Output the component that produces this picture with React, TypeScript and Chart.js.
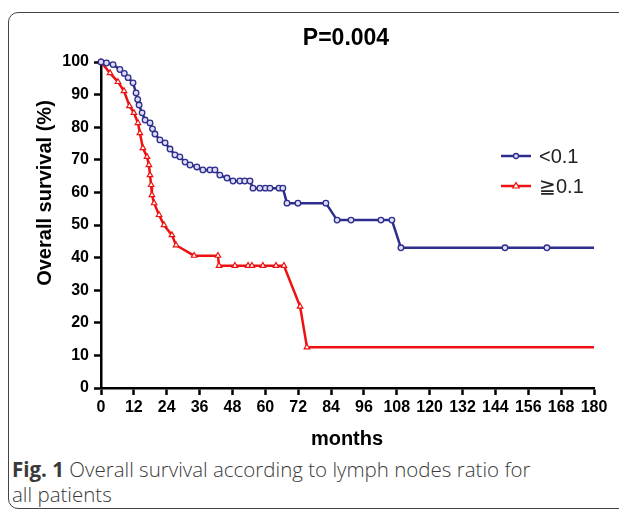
import React, { useEffect, useRef } from "react";
import { Chart, registerables } from "chart.js";

Chart.register(...registerables);

// ---- data ----
const titleText = "P=0.004";
const xAxisTitle = "months";
const yAxisTitle = "Overall survival (%)";
const seriesLabels = ["<0.1", "\u22670.1"];
const xTickValues = [0, 12, 24, 36, 48, 60, 72, 84, 96, 108, 120, 132, 144, 156, 168, 180];
const yTickValues = [0, 10, 20, 30, 40, 50, 60, 70, 80, 90, 100];

const lowMonths = [
  0, 2, 4.4, 6.9, 8.5, 9.9, 11.7, 12.8, 13.4, 13.9, 15, 16.1, 17.9, 18.8, 19.7, 21.5, 23.4,
  25.2, 27, 28.8, 30.7, 32.5, 35, 37.2, 39.8, 41.6, 43.4, 46, 48.2, 50.7, 52.5, 54.4, 55.5,
  58, 60, 61.7, 65, 66.4, 67.9, 71.9, 82.1, 86.2, 91.3, 102.2, 106.2, 109.5, 147.5, 162.8, 180,
];
const lowSurvival = [
  100, 99.7, 99.2, 97.7, 96.5, 95.2, 93.6, 90.5, 88.5, 86.8, 84.4, 82.2, 81.3, 79.5, 77.9, 76.1, 75.2,
  73.3, 71.5, 70.9, 69.3, 68.4, 67.8, 66.9, 66.9, 66.9, 65.3, 64.4, 63.5, 63.5, 63.5, 63.5, 61.3,
  61.3, 61.3, 61.3, 61.3, 61.3, 56.7, 56.7, 56.7, 51.5, 51.5, 51.5, 51.5, 43, 43, 43, 43,
];

const highMonths = [
  0, 3.3, 6.2, 8.4, 10.4, 12, 13.5, 14.2, 15.3, 16.8, 17.5, 17.9, 18.3, 18.6, 19.4, 21.2, 23,
  25.9, 27.4, 34, 42.7, 43.1, 48.9, 53.7, 55.1, 59.1, 63.9, 66.8, 72.7, 75.2, 180,
];
const highSurvival = [
  100, 96.6, 93.9, 91.1, 86.5, 84.4, 81.3, 78.2, 73.6, 70.9, 68.4, 65.3, 62.3, 59.2, 56.7, 53.1, 50,
  46.9, 43.8, 40.6, 40.6, 37.5, 37.5, 37.5, 37.5, 37.5, 37.5, 37.5, 25, 12.5, 12.5,
];

const blue = "#2d2d8c";
const red = "#ee1111";
const FONT = "'Liberation Sans', Arial, Helvetica, sans-serif";

function toPoints(xs: number[], ys: number[]) {
  return xs.map((x, i) => ({ x, y: ys[i] }));
}

export default function App() {
  const canvasRef = useRef<HTMLCanvasElement | null>(null);

  useEffect(() => {
    const canvas = canvasRef.current;
    if (!canvas) return;
    const lowPts = toPoints(lowMonths, lowSurvival);
    const highPts = toPoints(highMonths, highSurvival);
    const chart = new Chart(canvas, {
      type: "line",
      data: {
        datasets: [
          {
            label: seriesLabels[0],
            data: lowPts,
            borderColor: blue,
            borderWidth: 2.5,
            backgroundColor: "rgba(255,255,255,0.85)",
            pointStyle: "circle",
            pointRadius: (c: any) => (c.dataIndex === lowPts.length - 1 ? 0 : 2.8),
            pointBorderWidth: 1.3,
            pointBorderColor: blue,
            pointBackgroundColor: "rgba(220,220,245,1)",
            tension: 0,
            fill: false,
          },
          {
            label: seriesLabels[1],
            data: highPts,
            borderColor: red,
            borderWidth: 2.5,
            backgroundColor: "#ffffff",
            pointStyle: "triangle",
            pointRadius: (c: any) => (c.dataIndex === highPts.length - 1 ? 0 : 3.2),
            pointBorderWidth: 1.2,
            pointBorderColor: red,
            pointBackgroundColor: "#ffffff",
            tension: 0,
            fill: false,
          },
        ],
      },
      options: {
        responsive: false,
        animation: false,
        clip: false as any,
        layout: { padding: { left: 41, right: 25, top: 62, bottom: 22 } },
        plugins: {
          legend: { display: false },
          tooltip: { enabled: false },
          title: { display: false },
        },
        scales: {
          x: {
            type: "linear",
            min: 0,
            max: 180,
            afterFit: (s: any) => {
              s.height = 30;
            },
            afterBuildTicks: (s: any) => {
              s.ticks = xTickValues.map((v) => ({ value: v }));
            },
            ticks: {
              autoSkip: false,
              maxRotation: 0,
              minRotation: 0,
              padding: 3,
              color: "#000",
              font: { family: FONT, size: 16, weight: "bold" },
            },
            grid: {
              display: true,
              drawOnChartArea: false,
              drawTicks: true,
              tickLength: 7,
              tickWidth: 2.5,
              tickColor: "#000",
            },
            border: { display: true, color: "#000", width: 2.5 },
          },
          y: {
            type: "linear",
            min: 0,
            max: 100,
            afterFit: (s: any) => {
              s.width = 60;
            },
            afterBuildTicks: (s: any) => {
              s.ticks = yTickValues.map((v) => ({ value: v }));
            },
            ticks: {
              autoSkip: false,
              padding: 5,
              color: "#000",
              font: { family: FONT, size: 16, weight: "bold" },
            },
            grid: {
              display: true,
              drawOnChartArea: false,
              drawTicks: true,
              tickLength: 7,
              tickWidth: 2.5,
              tickColor: "#000",
            },
            border: { display: true, color: "#000", width: 2.5 },
          },
        },
      },
    } as any);
    return () => chart.destroy();
  }, []);

  const abs = (s: React.CSSProperties): React.CSSProperties => ({ position: "absolute", ...s });

  return (
    <div style={abs({ left: 0, top: 0, width: 619, height: 517, overflow: "hidden", background: "#fff" })}>
      <div
        style={abs({
          left: 8,
          top: 12,
          width: 720,
          height: 497,
          border: "1.5px solid #444",
          borderRadius: 10,
          boxSizing: "border-box",
        })}
      />
      <canvas ref={canvasRef} width={619} height={440} style={abs({ left: 0, top: 0, width: 619, height: 440 })} />
      <div
        style={abs({
          left: 246,
          top: 26,
          width: 200,
          textAlign: "center",
          font: `bold 23px ${FONT}`,
          lineHeight: "23px",
          color: "#000",
        })}
      >
        {titleText}
      </div>
      <div
        style={abs({
          left: 44 - 130,
          top: 193 - 10,
          width: 260,
          height: 20,
          textAlign: "center",
          font: `bold 20px ${FONT}`,
          lineHeight: "20px",
          color: "#000",
          transform: "rotate(-90deg)",
          whiteSpace: "nowrap",
        })}
      >
        {yAxisTitle}
      </div>
      <div
        style={abs({
          left: 247,
          top: 428,
          width: 200,
          textAlign: "center",
          font: `bold 20px ${FONT}`,
          lineHeight: "20px",
          color: "#000",
        })}
      >
        {xAxisTitle}
      </div>
      {/* legend */}
      <svg style={abs({ left: 498, top: 146, width: 40, height: 50 })} width={40} height={50}>
        <line x1={3} y1={10} x2={33} y2={10} stroke={blue} strokeWidth={2.5} />
        <circle cx={18} cy={10} r={2.5} fill="rgba(220,220,245,1)" stroke={blue} strokeWidth={1.3} />
        <line x1={3} y1={40} x2={33} y2={40} stroke={red} strokeWidth={2.5} />
        <polygon points="18,36.5 21.2,42 14.8,42" fill="#fff" stroke={red} strokeWidth={1.2} />
      </svg>
      <div style={abs({ left: 539, top: 146, font: `20px ${FONT}`, lineHeight: "20px", color: "#222" })}>
        {seriesLabels[0]}
      </div>
      <div style={abs({ left: 539, top: 176, font: `20px ${FONT}`, lineHeight: "20px", color: "#222" })}>
        {seriesLabels[1]}
      </div>
      {/* caption */}
      <div
        style={abs({
          left: 12,
          top: 457,
          width: 600,
          fontFamily: "'Open Sans', 'Noto Sans', sans-serif",
          fontSize: 20.5,
          fontWeight: 300,
          lineHeight: "25px",
          color: "#3a3a3a",
          whiteSpace: "nowrap",
        })}
      >
        <b style={{ fontWeight: 700 }}>Fig. 1</b> Overall survival according to lymph nodes ratio for
        <br />
        all patients
      </div>
    </div>
  );
}
